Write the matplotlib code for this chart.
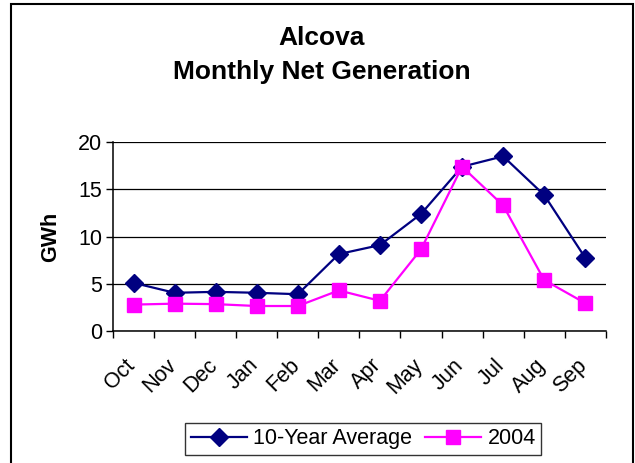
import matplotlib
matplotlib.use("Agg")
import matplotlib.pyplot as plt
from matplotlib.patches import Rectangle
from matplotlib.transforms import ScaledTranslation
import numpy as np

plt.rcParams["font.family"] = ["Liberation Sans", "DejaVu Sans"]

MONTHS = ["Oct", "Nov", "Dec", "Jan", "Feb", "Mar", "Apr", "May", "Jun", "Jul", "Aug", "Sep"]
AVG_10YR = [5.1, 4.05, 4.15, 4.05, 3.9, 8.15, 9.1, 12.4, 17.4, 18.5, 14.4, 7.75]
Y2004 = [2.8, 2.9, 2.85, 2.65, 2.65, 4.3, 3.2, 8.65, 17.4, 13.3, 5.4, 2.95]

FS = 15.5

fig = plt.figure(figsize=(6.35, 4.63), dpi=100)
ax = fig.add_axes([0.178, 0.285, 0.776, 0.408])

x = np.arange(len(MONTHS))
ax.plot(x, AVG_10YR, color="#000080", lw=1.6, marker="D", ms=9.5,
        label="10-Year Average", zorder=3)
ax.plot(x, Y2004, color="#FF00FF", lw=1.6, marker="s", ms=10.5,
        label="2004", zorder=4)

ax.set_xlim(-0.5, len(MONTHS) - 0.5)
ax.set_ylim(0, 20)
ax.set_yticks([0, 5, 10, 15, 20])
ax.yaxis.grid(True, color="black", lw=0.9)
ax.set_axisbelow(True)

# ticks between categories, labels at category centres
ax.set_xticks(np.arange(len(MONTHS) + 1) - 0.5)
ax.set_xticklabels([])
ax.set_xticks(x, minor=True)
ax.set_xticklabels(MONTHS, minor=True, rotation=45, ha="right", va="top",
                   rotation_mode="anchor", fontsize=FS)
ax.tick_params(axis="x", which="minor", length=0, pad=17)
ax.tick_params(axis="x", which="major", direction="out", length=5, width=1)
ax.tick_params(axis="y", direction="out", length=5, width=1, labelsize=FS, pad=3)
shift = ScaledTranslation(-9 / 100, 0, fig.dpi_scale_trans)
for lab in ax.get_xticklabels(minor=True):
    lab.set_transform(lab.get_transform() + shift)

for s in ("top", "right"):
    ax.spines[s].set_visible(False)
for s in ("left", "bottom"):
    ax.spines[s].set_linewidth(1.1)

ax.set_ylabel("GWh", fontsize=FS, fontweight="bold", labelpad=12)

fig.text(0.507, 0.917, "Alcova", ha="center", va="center",
         fontsize=19, fontweight="bold")
fig.text(0.507, 0.845, "Monthly Net Generation", ha="center", va="center",
         fontsize=19, fontweight="bold")

leg = fig.legend(loc="center", bbox_to_anchor=(0.572, 0.052), ncol=2,
                 fontsize=FS, frameon=True, fancybox=False, handlelength=2.6,
                 columnspacing=0.6, handletextpad=0.3, borderpad=0.25)
leg.get_frame().set_edgecolor("black")
leg.get_frame().set_linewidth(1.0)

fig.patches.append(Rectangle((11 / 635, -0.05), 622 / 635, 1.05 - 4 / 463,
                             transform=fig.transFigure, fill=False,
                             edgecolor="black", lw=1.5))

fig.savefig("out.png", dpi=100)
